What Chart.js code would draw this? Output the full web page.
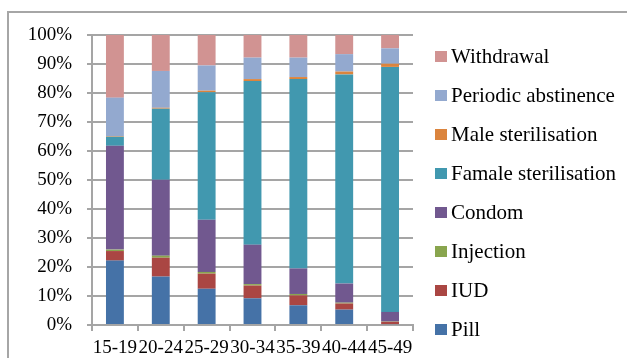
<!DOCTYPE html>
<html>
<head>
<meta charset="utf-8">
<script src="https://cdn.jsdelivr.net/npm/chart.js"></script>
<style>
body{margin:0;background:#fff;width:627px;height:358px;overflow:hidden;position:relative;font-family:"Liberation Serif","Times New Roman",serif;}
#frame{position:absolute;left:7px;top:11px;width:700px;height:400px;border-left:2px solid #a6a6a6;border-top:2px solid #a6a6a6;}
#chart{position:absolute;left:0;top:0;}
#legend{position:absolute;left:435px;top:37px;}
.item{display:flex;align-items:center;height:39px;font-size:21px;color:#000;white-space:nowrap;}
.box{width:12px;height:11px;margin-right:4px;}
</style>
</head>
<body>
<div id="frame"></div>
<canvas id="chart" width="627" height="358"></canvas>
<div id="legend"></div>
<script>
// ======================================
// DATA
// ======================================

const ageGroups = ["15-19","20-24","25-29","30-34","35-39","40-44","45-49"];

const pill       = [22.2, 16.7, 12.5,  9.2,  6.8,  5.3,  0.3];
const iud        = [ 3.3,  6.5,  5.2,  4.4,  3.4,  2.1,  0.8];
const injection  = [ 0.5,  0.7,  0.6,  0.5,  0.5,  0.3,  0.1];
const condom     = [35.8, 26.2, 18.0, 13.6,  8.8,  6.6,  3.3];
const femaleSter = [ 3.1, 24.5, 44.0, 56.4, 65.3, 72.1, 84.5];
const maleSter   = [ 0.2,  0.3,  0.5,  0.7,  0.7,  1.0,  1.1];
const periodic   = [13.3, 12.7,  8.7,  7.4,  6.7,  6.0,  5.3];
const withdrawal = [21.6, 12.4, 10.5,  7.8,  7.8,  6.6,  4.6];

const yTicks = [0,10,20,30,40,50,60,70,80,90,100];

// ======================================
// CHART
// ======================================

const font = {family:"'Liberation Serif','Times New Roman',serif", size:19};

const series = [
  {label:"Pill", data:pill, color:"#4572A7"},
  {label:"IUD", data:iud, color:"#AA4643"},
  {label:"Injection", data:injection, color:"#89A54E"},
  {label:"Condom", data:condom, color:"#71588F"},
  {label:"Famale sterilisation", data:femaleSter, color:"#4198AF"},
  {label:"Male sterilisation", data:maleSter, color:"#DB843D"},
  {label:"Periodic abstinence", data:periodic, color:"#93A9CF"},
  {label:"Withdrawal", data:withdrawal, color:"#D19392"}
];

const chart = new Chart(document.getElementById("chart"), {
  type: "bar",
  data: {
    labels: ageGroups,
    datasets: series.map(s => ({
      label: s.label,
      data: s.data,
      backgroundColor: s.color,
      borderWidth: 0,
      barPercentage: 0.39,
      categoryPercentage: 1
    }))
  },
  options: {
    responsive: false,
    animation: false,
    layout: {padding: {top: 35, right: 214, left: 0, bottom: 0}},
    plugins: {legend: {display: false}, tooltip: {enabled: false}},
    scales: {
      x: {
        stacked: true,
        grid: {drawOnChartArea: false, drawTicks: true, tickLength: 6, color: "#a5a5a5", lineWidth: 2},
        border: {color: "#a5a5a5", width: 2},
        ticks: {color: "#000", font: font, padding: 6, maxRotation: 0, autoSkip: false},
        afterFit: s => { s.height = 33; }
      },
      y: {
        stacked: true,
        min: 0,
        max: 100,
        afterBuildTicks: s => { s.ticks = yTicks.map(v => ({value: v})); },
        grid: {color: "#a5a5a5", lineWidth: 2, tickLength: 5},
        border: {color: "#a5a5a5", width: 2},
        ticks: {color: "#000", font: font, padding: 15, callback: v => v + "%"},
        afterFit: s => { s.width = 92; }
      }
    }
  }
});

// ======================================
// LEGEND
// ======================================

const legend = document.getElementById("legend");
series.slice().reverse().forEach(s => {
  legend.insertAdjacentHTML("beforeend",
    `<div class="item"><span class="box" style="background:${s.color}"></span>${s.label}</div>`);
});
</script>
</body>
</html>
